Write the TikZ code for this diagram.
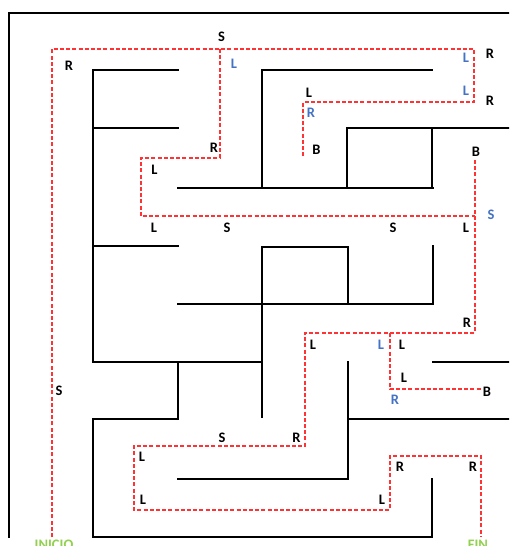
\documentclass[tikz,border=0pt]{standalone}
\usepackage{fontspec}
\setmainfont{Carlito}
\definecolor{pathred}{RGB}{255,51,51}
\definecolor{lblblue}{RGB}{68,114,196}
\definecolor{lblgreen}{RGB}{146,208,80}
\begin{document}
\begin{tikzpicture}[x=1pt,y=-1pt,
  wall/.style={line width=1.8pt,black,line cap=rect},
  route/.style={line width=1.3pt,pathred,dash pattern=on 4pt off 2.2pt},
  lbl/.style={font=\fontsize{14.5}{16}\selectfont\bfseries,inner sep=0pt,text=black},
  blbl/.style={lbl,text=lblblue},
  glbl/.style={lbl,text=lblgreen}]
\path[use as bounding box] (0,0) rectangle (509,546);
\clip (0,0) rectangle (509,546);
% outer border
\draw[wall] (9,537) -- (9,13) -- (512,13);
% walls
\draw[wall] (178,70) -- (93,70) -- (93,362) -- (262,362);
\draw[wall] (93,128) -- (178,128);
\draw[wall] (93,246) -- (178,246);
\draw[wall] (178,362) -- (178,419) -- (93,419) -- (93,537) -- (432,537) -- (432,479);
\draw[wall] (178,479) -- (348,479) -- (348,362);
\draw[wall] (348,419) -- (512,419);
\draw[wall] (262,417) -- (262,247) -- (348,247) -- (348,304);
\draw[wall] (178,304) -- (433,304) -- (433,246);
\draw[wall] (433,362) -- (512,362);
\draw[wall] (432,70) -- (262,70) -- (262,188);
\draw[wall] (178,188) -- (433,188);
\draw[wall] (347,188) -- (347,128) -- (512,128);
\draw[wall] (432,128) -- (432,188);
% route
\draw[route] (52,537) -- (52,49) -- (474,49) -- (474,102) -- (303,102) -- (303,157);
\draw[route] (220,49) -- (220,158) -- (141,158) -- (141,216) -- (475,216);
\draw[route] (475,160) -- (475,333) -- (305,333) -- (305,446) -- (134,446)
  -- (134,510) -- (390,510) -- (390,456) -- (481,456) -- (481,537);
\draw[route] (390,333) -- (390,389) -- (482,389);
% labels
\node[lbl] (s1) at (221.5,37) {S};
\node[blbl] (l1) at (234,64) {L};
\node[lbl] (r1) at (69,66) {R};
\node[blbl] (l2) at (466,58) {L};
\node[lbl] (r2) at (490,54) {R};
\node[lbl] (l3) at (309,93) {L};
\node[blbl] (l4) at (466,91) {L};
\node[lbl] (r3) at (490,101) {R};
\node[blbl] (r4) at (311,113) {R};
\node[lbl] (b1) at (316.5,150) {B};
\node[lbl] (b2) at (476,152) {B};
\node[lbl] (r5) at (214,148) {R};
\node[lbl] (l5) at (154.5,170) {L};
\node[lbl] (l6) at (154,228) {L};
\node[lbl] (s2) at (227,228) {S};
\node[lbl] (s3) at (393,228) {S};
\node[lbl] (l7) at (466,228) {L};
\node[blbl] (s4) at (491,215) {S};
\node[lbl] (r6) at (467,323) {R};
\node[lbl] (l8) at (313,345) {L};
\node[blbl] (l9) at (381,345) {L};
\node[lbl] (l10) at (402,345) {L};
\node[lbl] (l11) at (404,378) {L};
\node[lbl] (b3) at (487,392) {B};
\node[blbl] (r7) at (395,400) {R};
\node[lbl] (s5) at (59,391) {S};
\node[lbl] (s6) at (222,438) {S};
\node[lbl] (r8) at (296.5,438) {R};
\node[lbl] (l12) at (142,457) {L};
\node[lbl] (l13) at (143,500) {L};
\node[lbl] (r9) at (400,467) {R};
\node[lbl] (r10) at (473,467) {R};
\node[lbl] (l14) at (382,500) {L};
\node[glbl,anchor=north] (ini) at (54,540) {INICIO};
\node[glbl,anchor=north] (fin) at (478,540) {FIN};
\end{tikzpicture}
\end{document}
